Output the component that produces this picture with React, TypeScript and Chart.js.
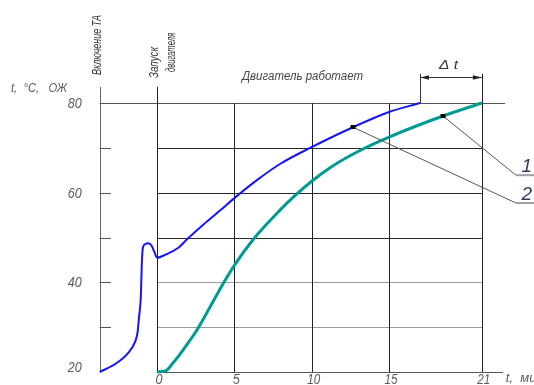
import React, { useEffect, useRef } from "react";
import { Chart, registerables } from "chart.js";

Chart.register(...registerables);

// Curve 2 (blue): coolant temperature, heater switched on before engine start
const blueTime = [-3.7, -2.6, -1.87, -1.42, -1.25, -1.17, -1.05, -0.98, -0.92, -0.78, -0.56, -0.34, -0.17, 0, 0.62, 1.38, 1.94, 2.97, 4.07, 5.04, 6.46, 7.95, 10.02, 12.67, 15.0, 17.0];
const blueTemp = [20, 22, 24.2, 26.7, 29.0, 32.0, 36.5, 44.2, 47.6, 48.5, 48.7, 48.1, 46.8, 45.5, 46.3, 47.7, 49.6, 52.8, 56.0, 58.9, 62.8, 66.4, 70.2, 74.6, 78.0, 80];

// Curve 1 (teal): coolant temperature without preheating
const tealTime = [0, 0.58, 1.03, 1.68, 2.57, 3.43, 4.29, 5.0, 6.23, 7.95, 8.81, 10.02, 11.38, 13.12, 15.0, 18.49, 21];
const tealTemp = [20, 20.3, 22, 24.9, 29.3, 34.5, 39.8, 43.8, 49.6, 56.1, 59.0, 62.6, 66.0, 69.4, 72.4, 77.1, 80];

const xTicks = [0, 5, 10, 15, 21];
const yTickLabels = [20, 40, 60, 80];
const yGrid = [30, 40, 50, 60, 70];
const yGridLight = [30, 40];
const markerTeal = { x: 18.49, y: 77.1 };
const markerBlue = { x: 12.67, y: 74.6 };
const calloutLabels = ["1", "2"];
const dtStart = 17;
const dtEnd = 21;

const FONT = '"Liberation Sans Narrow", "Liberation Sans", sans-serif';

function fitText(ctx: CanvasRenderingContext2D, text: string, x: number, y: number, w: number, font: string, color: string, align: CanvasTextAlign = "left", baseline: CanvasTextBaseline = "middle") {
  ctx.save();
  ctx.font = font;
  ctx.fillStyle = color;
  ctx.textAlign = align;
  ctx.textBaseline = baseline;
  const m = ctx.measureText(text).width || 1;
  ctx.translate(x, y);
  ctx.scale(w / m, 1);
  ctx.fillText(text, 0, 0);
  ctx.restore();
}

function line(ctx: CanvasRenderingContext2D, x1: number, y1: number, x2: number, y2: number, color: string, w = 1) {
  ctx.save();
  ctx.strokeStyle = color;
  ctx.lineWidth = w;
  ctx.beginPath();
  ctx.moveTo(x1, y1);
  ctx.lineTo(x2, y2);
  ctx.stroke();
  ctx.restore();
}

const r = (v: number) => Math.round(v) + 0.5;

const decor = {
  id: "decor",
  beforeDatasetsDraw(chart: any) {
    const ctx: CanvasRenderingContext2D = chart.ctx;
    const xs = chart.scales.x;
    const ys = chart.scales.y;
    const X = (t: number) => xs.getPixelForValue(t);
    const Y = (v: number) => ys.getPixelForValue(v);
    const axisT = blueTime[0];

    // left axis
    line(ctx, r(X(axisT)), Y(83.6), r(X(axisT)), Y(20), "#666");
    // horizontal grid
    for (const v of yGrid) {
      const c = yGridLight.includes(v) ? "#9a9a9a" : "#2a2a2a";
      line(ctx, X(0), r(Y(v)), X(21), r(Y(v)), c);
      line(ctx, X(axisT), r(Y(v)), X(axisT + 0.72), r(Y(v)), "#555");
    }
    // 80 line
    line(ctx, X(axisT), r(Y(80)), X(22.5), r(Y(80)), "#555");
    // x axis
    line(ctx, X(0), r(Y(20)), X(22.37), r(Y(20)), "#555");
    // vertical grid
    for (const t of xTicks) {
      let top = 80;
      if (t === 0) top = 83.6;
      if (t === 21) top = 86.5;
      line(ctx, r(X(t)), Y(top), r(X(t)), Y(20), "#222");
    }
    // delta t bracket
    line(ctx, r(X(dtStart)), Y(86.5), r(X(dtStart)), Y(80), "#333");
    const by = r(Y(85.8));
    line(ctx, X(dtStart), by, X(dtEnd), by, "#333");
    ctx.save();
    ctx.fillStyle = "#222";
    ctx.beginPath();
    ctx.moveTo(X(dtStart) + 0.5, by);
    ctx.lineTo(X(dtStart) + 9, by - 2.2);
    ctx.lineTo(X(dtStart) + 9, by + 2.2);
    ctx.closePath();
    ctx.fill();
    ctx.beginPath();
    ctx.moveTo(X(dtEnd), by);
    ctx.lineTo(X(dtEnd) - 9, by - 2.2);
    ctx.lineTo(X(dtEnd) - 9, by + 2.2);
    ctx.closePath();
    ctx.fill();
    ctx.restore();
  },
  afterDatasetsDraw(chart: any) {
    const ctx: CanvasRenderingContext2D = chart.ctx;
    const xs = chart.scales.x;
    const ys = chart.scales.y;
    const X = (t: number) => xs.getPixelForValue(t);
    const Y = (v: number) => ys.getPixelForValue(v);
    const axisT = blueTime[0];
    const gray = "#5a5a5a";

    // callouts
    const ax = X(23.2);
    const a1 = Y(63.9);
    const a2 = Y(57.7);
    line(ctx, X(markerTeal.x), Y(markerTeal.y), ax, a1, "#555");
    line(ctx, X(markerBlue.x), Y(markerBlue.y), ax, a2, "#555");
    line(ctx, ax, a1, 534, a1, "#a0a0a0", 2);
    line(ctx, ax, a2, 534, a2, "#a0a0a0", 2);
    ctx.save();
    ctx.font = `italic 19px ${FONT}`;
    ctx.fillStyle = "#2f3d5c";
    ctx.textAlign = "center";
    ctx.textBaseline = "alphabetic";
    ctx.fillText(calloutLabels[0], ax + 11, a1 - 3);
    ctx.fillText(calloutLabels[1], ax + 11, a2 - 3);
    ctx.restore();

    // markers on top of callout lines
    ctx.save();
    ctx.fillStyle = "#000";
    for (const m of [markerBlue, markerTeal]) {
      ctx.fillRect(Math.round(X(m.x)) - 2.5, Math.round(Y(m.y)) - 2, 5, 4);
    }
    ctx.restore();

    // y tick labels
    for (const v of yTickLabels) {
      const yy = Y(v) + (v === 20 ? -4 : 1);
      fitText(ctx, String(v), X(axisT) - 18, yy, 14, `italic 14px ${FONT}`, gray, "right");
    }
    // x tick labels
    for (const t of xTicks) {
      const w = String(t).length > 1 ? 13 : 7;
      fitText(ctx, String(t), X(t) + 2, Y(20) + 8, w, `italic 14px ${FONT}`, gray, "center");
    }
    // axis titles
    fitText(ctx, "t,  °C,   ОЖ", 11, 88, 56, `italic 13px ${FONT}`, gray, "left");
    ctx.save();
    ctx.font = `italic 13px ${FONT}`;
    ctx.fillStyle = gray;
    ctx.textBaseline = "middle";
    ctx.fillText("t,  мин", X(22.55), Y(20) + 6);
    ctx.restore();

    fitText(ctx, "Двигатель работает", 242, 77, 121, `italic 12px ${FONT}`, "#444", "left");
    fitText(ctx, "Δ t", 439, 66, 19, `italic 12px ${FONT}`, "#333", "left");

    // rotated labels
    const rot = (text: string, cx: number, bottom: number, len: number) => {
      ctx.save();
      ctx.translate(cx, bottom);
      ctx.rotate(-Math.PI / 2);
      fitText(ctx, text, 0, 0, len, `italic 12px ${FONT}`, "#333", "left", "middle");
      ctx.restore();
    };
    rot("Включение ТА", 98, 75, 60);
    rot("Запуск", 155, 78, 31);
    rot("двигателя", 172, 72, 39);
  },
};

export default function App() {
  const ref = useRef<HTMLCanvasElement>(null);
  useEffect(() => {
    if (!ref.current) return;
    const chart = new Chart(ref.current, {
      type: "scatter",
      data: {
        datasets: [
          {
            label: "2",
            data: blueTime.map((t, i) => ({ x: t, y: blueTemp[i] })),
            showLine: true,
            borderColor: "#1414f5",
            borderWidth: 2,
            pointRadius: 0,
            cubicInterpolationMode: "monotone",
          },
          {
            label: "1",
            data: tealTime.map((t, i) => ({ x: t, y: tealTemp[i] })),
            showLine: true,
            borderColor: "#009a94",
            borderWidth: 3,
            pointRadius: 0,
            cubicInterpolationMode: "monotone",
          },
        ],
      },
      options: {
        animation: false,
        responsive: false,
        devicePixelRatio: 1,
        layout: { padding: 0 },
        plugins: { legend: { display: false }, tooltip: { enabled: false } },
        scales: {
          x: { type: "linear", min: -10.15, max: 24.37, display: false },
          y: { type: "linear", min: 17.1, max: 102.98, display: false },
        },
      },
      plugins: [decor],
    } as any);
    return () => chart.destroy();
  }, []);
  return (
    <div style={{ position: "fixed", left: 0, top: 0, width: 534, height: 385, background: "#fff" }}>
      <canvas ref={ref} width={534} height={385} style={{ display: "block" }} />
    </div>
  );
}
